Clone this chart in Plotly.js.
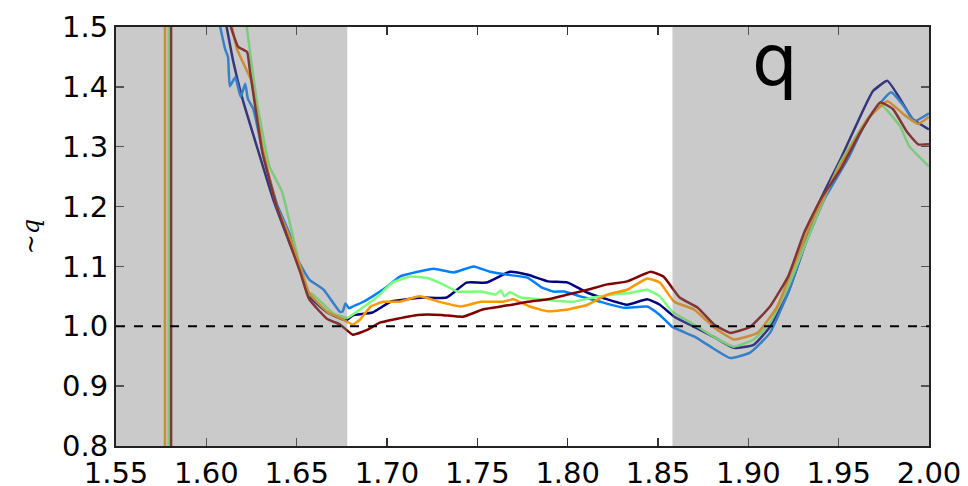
<!DOCTYPE html>
<html>
<head>
<meta charset="utf-8">
<script src="https://cdn.plot.ly/plotly-3.0.1.min.js"></script>
<style>html,body{margin:0;padding:0;background:#fff;}#chart{width:968px;height:486px;}</style>
</head>
<body>
<div id="chart"></div>
<script>
// ---- data ----
const xTickVals = [1.55, 1.60, 1.65, 1.70, 1.75, 1.80, 1.85, 1.90, 1.95, 2.00];
const xTickText = ["1.55", "1.60", "1.65", "1.70", "1.75", "1.80", "1.85", "1.90", "1.95", "2.00"];
const yTickVals = [0.8, 0.9, 1.0, 1.1, 1.2, 1.3, 1.4, 1.5];
const yTickText = ["0.8", "0.9", "1.0", "1.1", "1.2", "1.3", "1.4", "1.5"];
const shadeStart = [1.55, 1.858];
const shadeEnd = [1.678, 2.00];
const refLevel = 1.0;

const seriesColors = ["#000080", "#0080ff", "#7bff7b", "#ff9700", "#800000"];

const navyX = [1.610, 1.615, 1.620, 1.628, 1.637, 1.646, 1.652, 1.657, 1.667, 1.676, 1.678, 1.681, 1.692, 1.702, 1.711, 1.720, 1.733, 1.744, 1.755, 1.768, 1.778, 1.789, 1.800, 1.811, 1.822, 1.833, 1.844, 1.851, 1.859, 1.870, 1.881, 1.892, 1.903, 1.912, 1.922, 1.931, 1.940, 1.951, 1.962, 1.969, 1.977, 1.984, 1.991, 2.000];
const navyY = [1.52, 1.441, 1.38, 1.30, 1.212, 1.140, 1.095, 1.050, 1.023, 1.011, 1.011, 1.018, 1.023, 1.041, 1.045, 1.048, 1.048, 1.073, 1.073, 1.091, 1.086, 1.075, 1.073, 1.056, 1.045, 1.036, 1.045, 1.036, 1.016, 0.999, 0.982, 0.964, 0.969, 0.999, 1.056, 1.133, 1.212, 1.279, 1.351, 1.393, 1.410, 1.380, 1.346, 1.329];

const blueX = [1.6070, 1.6104, 1.612, 1.613, 1.616, 1.619, 1.6215, 1.623, 1.626, 1.632, 1.639, 1.646, 1.650, 1.657, 1.665, 1.674, 1.6755, 1.677, 1.679, 1.681, 1.687, 1.692, 1.700, 1.707, 1.717, 1.726, 1.737, 1.748, 1.757, 1.767, 1.778, 1.785, 1.792, 1.798, 1.807, 1.818, 1.831, 1.844, 1.851, 1.858, 1.870, 1.879, 1.890, 1.901, 1.912, 1.922, 1.931, 1.942, 1.955, 1.966, 1.979, 1.986, 1.992, 2.000];
const blueY = [1.51, 1.463, 1.45, 1.401, 1.416, 1.383, 1.405, 1.380, 1.363, 1.28, 1.205, 1.155, 1.115, 1.078, 1.061, 1.024, 1.025, 1.038, 1.030, 1.033, 1.041, 1.050, 1.066, 1.083, 1.091, 1.096, 1.090, 1.100, 1.091, 1.086, 1.081, 1.066, 1.058, 1.058, 1.050, 1.041, 1.031, 1.033, 1.019, 0.999, 0.983, 0.966, 0.947, 0.956, 0.989, 1.056, 1.133, 1.212, 1.279, 1.346, 1.391, 1.368, 1.343, 1.356];

const greenX = [1.5791, 1.5791, null, 1.6215, 1.628, 1.635, 1.642, 1.650, 1.656, 1.658, 1.662, 1.670, 1.678, 1.685, 1.695, 1.703, 1.713, 1.722, 1.731, 1.739, 1.752, 1.760, 1.763, 1.765, 1.768, 1.774, 1.785, 1.803, 1.814, 1.825, 1.835, 1.844, 1.851, 1.858, 1.870, 1.881, 1.892, 1.903, 1.912, 1.922, 1.931, 1.940, 1.951, 1.962, 1.973, 1.984, 1.989, 2.000];
const greenY = [0.7, 1.6, null, 1.52, 1.375, 1.267, 1.224, 1.123, 1.050, 1.055, 1.045, 1.022, 1.014, 1.028, 1.050, 1.073, 1.083, 1.081, 1.070, 1.058, 1.058, 1.053, 1.060, 1.050, 1.057, 1.048, 1.045, 1.041, 1.048, 1.053, 1.056, 1.061, 1.050, 1.024, 1.003, 0.982, 0.966, 0.978, 1.006, 1.066, 1.133, 1.200, 1.274, 1.329, 1.371, 1.334, 1.301, 1.267];

const orangeX = [1.5771, 1.5771, null, 1.6135, 1.617, 1.6226, 1.625, 1.631, 1.639, 1.646, 1.652, 1.657, 1.667, 1.674, 1.681, 1.685, 1.691, 1.698, 1.707, 1.718, 1.730, 1.741, 1.752, 1.764, 1.770, 1.779, 1.789, 1.800, 1.811, 1.822, 1.833, 1.844, 1.851, 1.859, 1.870, 1.881, 1.892, 1.905, 1.916, 1.925, 1.934, 1.944, 1.955, 1.966, 1.977, 1.986, 1.994, 2.000];
const orangeY = [0.7, 1.6, null, 1.51, 1.463, 1.426, 1.41, 1.30, 1.20, 1.15, 1.10, 1.055, 1.024, 1.014, 1.003, 1.011, 1.033, 1.041, 1.041, 1.050, 1.040, 1.033, 1.041, 1.041, 1.045, 1.033, 1.025, 1.028, 1.036, 1.053, 1.061, 1.080, 1.073, 1.041, 1.028, 0.998, 0.978, 0.989, 1.033, 1.100, 1.167, 1.229, 1.291, 1.346, 1.376, 1.354, 1.338, 1.350];

const redX = [1.5805, 1.5805, null, 1.6125, 1.6176, 1.6226, 1.624, 1.631, 1.639, 1.646, 1.652, 1.657, 1.667, 1.674, 1.681, 1.689, 1.696, 1.703, 1.717, 1.730, 1.742, 1.753, 1.767, 1.778, 1.789, 1.800, 1.811, 1.822, 1.833, 1.846, 1.853, 1.862, 1.872, 1.881, 1.890, 1.901, 1.912, 1.922, 1.931, 1.940, 1.951, 1.962, 1.973, 1.980, 1.988, 1.994, 2.000];
const redY = [0.7, 1.6, null, 1.51, 1.467, 1.458, 1.43, 1.291, 1.20, 1.14, 1.09, 1.045, 1.012, 1.003, 0.986, 0.994, 1.006, 1.011, 1.019, 1.019, 1.016, 1.028, 1.035, 1.041, 1.045, 1.053, 1.061, 1.070, 1.075, 1.091, 1.083, 1.048, 1.031, 1.003, 0.989, 0.999, 1.033, 1.083, 1.157, 1.212, 1.262, 1.324, 1.374, 1.363, 1.324, 1.304, 1.304];

const seriesX = [navyX, blueX, greenX, orangeX, redX];
const seriesY = [navyY, blueY, greenY, orangeY, redY];

// ---- traces ----
const traces = seriesX.map((xs, i) => ({
  x: xs, y: seriesY[i], type: 'scatter', mode: 'lines',
  line: {color: seriesColors[i], width: 2.5, shape: 'spline', smoothing: 0.4},
  connectgaps: false, hoverinfo: 'skip', showlegend: false
}));

const shapes = shadeStart.map((s, i) => ({
  type: 'rect', xref: 'x', yref: 'paper', x0: s, x1: shadeEnd[i], y0: 0, y1: 1,
  fillcolor: 'rgba(128,128,128,0.42)', line: {width: 0}, layer: 'above'
}));
shapes.push({
  type: 'line', xref: 'paper', yref: 'y', x0: 0, x1: 1, y0: refLevel, y1: refLevel,
  line: {color: '#000', width: 2, dash: 'dash'}, layer: 'above'
});

const axisCommon = {
  showgrid: false, zeroline: false, showline: true, linecolor: '#222', linewidth: 2,
  mirror: 'ticks', ticks: 'inside', ticklen: 8, tickwidth: 1.5, tickcolor: '#333',
  tickfont: {family: 'DejaVu Sans', size: 29, color: '#000'}
};

const layout = {
  width: 968, height: 486,
  margin: {l: 116, r: 39, t: 27, b: 40, pad: 0},
  paper_bgcolor: '#fff', plot_bgcolor: '#fff',
  xaxis: Object.assign({}, axisCommon, {
    range: [1.55, 2.00], tickmode: 'array', tickvals: xTickVals, ticktext: xTickText
  }),
  yaxis: Object.assign({}, axisCommon, {
    range: [0.8, 1.5], tickmode: 'array', tickvals: yTickVals, ticktext: yTickText,
    title: {text: '~<i>q</i>', font: {family: 'DejaVu Serif', size: 24, color: '#000'}, standoff: 16}
  }),
  shapes: shapes,
  annotations: [{
    x: 1.9145, y: 1.445, xref: 'x', yref: 'y', text: 'q', showarrow: false,
    font: {family: 'DejaVu Sans', size: 72, color: '#000'}, xanchor: 'center', yanchor: 'middle'
  }]
};

Plotly.newPlot('chart', traces, layout, {staticPlot: true, displayModeBar: false});
</script>
</body>
</html>
